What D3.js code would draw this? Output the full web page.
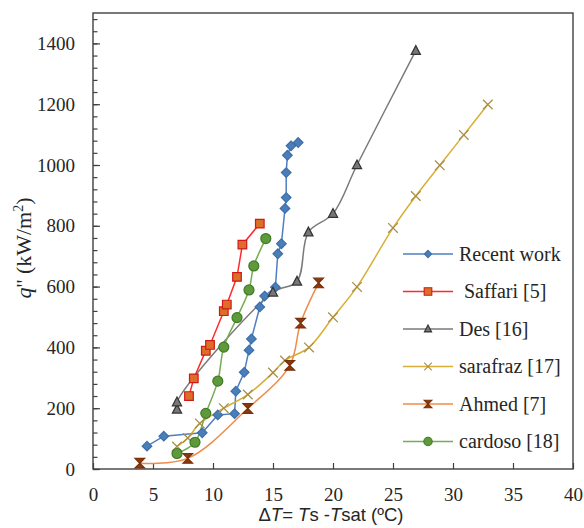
<!DOCTYPE html>
<html><head><meta charset="utf-8">
<script src="https://cdn.jsdelivr.net/npm/d3@7/dist/d3.min.js"></script>
<style>body{margin:0;background:#fff}svg{display:block}</style>
</head><body>
<svg id="c" width="584" height="528"></svg>
<script>
// ---- data ----
const seriesNames = ["Recent work", " Saffari [5]", "Des [16]", "sarafraz [17]", "Ahmed [7]", "cardoso [18]"];
const recentX = [4.5, 5.9, 9.1, 10.4, 11.8, 11.9, 12.6, 13.0, 13.2, 13.9, 14.3, 15.2, 15.4, 15.7, 16.0, 16.1, 16.1, 16.2, 16.5, 17.1];
const recentY = [75, 108, 119, 178, 182, 256, 318, 391, 428, 533, 569, 598, 708, 741, 857, 893, 975, 1032, 1063, 1074];
const saffariX = [8.0, 8.4, 9.4, 9.75, 10.9, 11.15, 12.0, 12.45, 13.9];
const saffariY = [240, 298, 389, 408, 519, 541, 632, 738, 807];
const desX = [7.0, 7.0, 15.0, 17.0, 17.95, 20.0, 22.0, 26.9];
const desY = [196, 220, 581, 617, 779, 840, 1000, 1376];
const sarafrazX = [7.0, 7.9, 8.9, 10.9, 12.9, 15.0, 16.0, 18.0, 20.0, 22.0, 25.0, 26.9, 28.9, 30.9, 32.9];
const sarafrazY = [74, 102, 150, 200, 245, 317, 357, 400, 499, 599, 793, 898, 999, 1099, 1199];
const ahmedX = [3.9, 7.9, 12.9, 16.4, 17.3, 18.8];
const ahmedY = [19, 35, 199, 341, 480, 612];
const cardosoX = [7.0, 8.5, 9.4, 10.4, 10.9, 12.0, 13.0, 13.4, 14.4];
const cardosoY = [51, 88, 183, 289, 401, 498, 589, 668, 758];
const xTicks = [0, 5, 10, 15, 20, 25, 30, 35, 40];
const yTicks = [0, 200, 400, 600, 800, 1000, 1200, 1400];

// ---- layout ----
const svg = d3.select("#c");
const L = 93, R = 573, T = 13, B = 469;
const x = d3.scaleLinear().domain([0, 40]).range([L, R]);
const y = d3.scaleLinear().domain([0, 1500]).range([B, T]);
const serif = "'Liberation Serif','Times New Roman',serif";

const zip = (a, b) => a.map((v, i) => [v, b[i]]);
const styles = [
  {line: "#4F7FC0", curve: d3.curveLinear, marker: "diamond", fill: "#4A7EBB", stroke: "#3D6FA8"},
  {line: "#FF2A2A", curve: d3.curveLinear, marker: "square", fill: "#DC6E28", stroke: "#D01818"},
  {line: "#7A7A7A", curve: d3.curveCatmullRom, marker: "triangle", fill: "#777777", stroke: "#333333"},
  {line: "#D9AE36", curve: d3.curveCatmullRom, marker: "x", fill: "none", stroke: "#A8904A"},
  {line: "#EE8C4A", curve: d3.curveCatmullRom, marker: "hourglass", fill: "#8B3A10", stroke: "#7A3008"},
  {line: "#77AD52", curve: d3.curveCatmullRom, marker: "circle", fill: "#5E9A3C", stroke: "#3F7A26"}
];
const data = [zip(recentX, recentY), zip(saffariX, saffariY), zip(desX, desY),
              zip(sarafrazX, sarafrazY), zip(ahmedX, ahmedY), zip(cardosoX, cardosoY)];

function markerPath(type, s) {
  switch (type) {
    case "diamond": return `M0,${-s}L${s},0L0,${s}L${-s},0Z`;
    case "square": return `M${-s},${-s}H${s}V${s}H${-s}Z`;
    case "triangle": return `M0,${-s*1.1}L${s},${s*0.8}L${-s},${s*0.8}Z`;
    case "x": return `M${-s},${-s}L${s},${s}M${-s},${s}L${s},${-s}`;
    case "hourglass": return `M${-s},${-s}H${s}L0,0L${s},${s}H${-s}L0,0Z`;
    case "circle": return d3.symbol(d3.symbolCircle, Math.PI * s * s)();
  }
}

// ---- axes ----
const gx = svg.append("g").attr("transform", `translate(0,${B})`)
  .call(d3.axisBottom(x).tickValues(xTicks).tickSize(-6).tickPadding(19).tickFormat(d3.format("d")));
const gy = svg.append("g").attr("transform", `translate(${L},0)`)
  .call(d3.axisLeft(y).tickValues(yTicks).tickSize(-7).tickPadding(18).tickFormat(d3.format("d")));
const gym = svg.append("g").attr("transform", `translate(${L},0)`)
  .call(d3.axisLeft(y).tickValues(d3.range(0, 1500, 40)).tickSize(-4.5).tickFormat(""));
[gx, gy, gym].forEach(g => {
  g.select(".domain").remove();
  g.selectAll(".tick line").attr("stroke", "#404040").attr("stroke-width", 1.2);
  g.selectAll("text").attr("font-family", serif).attr("font-size", 19).attr("fill", "#262626");
});

svg.append("rect").attr("x", L).attr("y", T).attr("width", R - L).attr("height", B - T)
  .attr("fill", "none").attr("stroke", "#404040").attr("stroke-width", 1.4);

// ---- series ----
data.forEach((d, i) => {
  const st = styles[i];
  const line = d3.line().x(p => x(p[0])).y(p => y(p[1])).curve(st.curve);
  svg.append("path").attr("d", line(d)).attr("fill", "none")
    .attr("stroke", st.line).attr("stroke-width", 1.5);
});
data.forEach((d, i) => {
  const st = styles[i];
  const size = {diamond: 4.8, square: 4.3, triangle: 4.6, x: 4.8, hourglass: 4.8, circle: 5}[st.marker];
  svg.append("g").selectAll("path").data(d).join("path")
    .attr("transform", p => `translate(${x(p[0])},${y(p[1])})`)
    .attr("d", markerPath(st.marker, size))
    .attr("fill", st.fill).attr("stroke", st.stroke)
    .attr("stroke-width", st.marker === "x" ? 1.3 : 1.2);
});

// ---- legend ----
const lg = svg.append("g");
seriesNames.forEach((name, i) => {
  const st = styles[i];
  const yy = 254 + i * 37.5;
  lg.append("line").attr("x1", 403).attr("x2", 453).attr("y1", yy).attr("y2", yy)
    .attr("stroke", st.line).attr("stroke-width", 1.5);
  const size = {diamond: 3.6, square: 3.8, triangle: 3.6, x: 3.8, hourglass: 3.8, circle: 4.2}[st.marker];
  lg.append("path").attr("transform", `translate(428,${yy})`)
    .attr("d", markerPath(st.marker, size))
    .attr("fill", st.fill).attr("stroke", st.stroke).attr("stroke-width", 1.1);
  lg.append("text").attr("x", 459).attr("y", yy).attr("dy", "0.33em")
    .attr("xml:space", "preserve").style("white-space", "pre")
    .attr("font-family", serif).attr("font-size", 20).attr("fill", "#262626").text(name);
});

// ---- axis titles ----
const yt = svg.append("text").attr("transform", "translate(31,248) rotate(-90)")
  .attr("text-anchor", "middle").attr("font-family", serif).attr("font-size", 22).attr("fill", "#262626");
yt.append("tspan").attr("font-style", "italic").text("q");
yt.append("tspan").text("'' (kW/m");
yt.append("tspan").attr("font-size", 14).attr("dy", -8).text("2");
yt.append("tspan").attr("dy", 8).text(")");

const xt = svg.append("text").attr("x", 331).attr("y", 521).attr("text-anchor", "middle")
  .attr("font-family", "'Liberation Sans',Arial,sans-serif").attr("font-size", 18.5).attr("fill", "#262626")
  .style("white-space", "pre");
xt.append("tspan").text("Δ");
xt.append("tspan").attr("font-style", "italic").text("T");
xt.append("tspan").text("= ");
xt.append("tspan").attr("font-style", "italic").text("T");
xt.append("tspan").text("s -");
xt.append("tspan").attr("font-style", "italic").text("T");
xt.append("tspan").text("sat (ºC)");
</script>
</body></html>
